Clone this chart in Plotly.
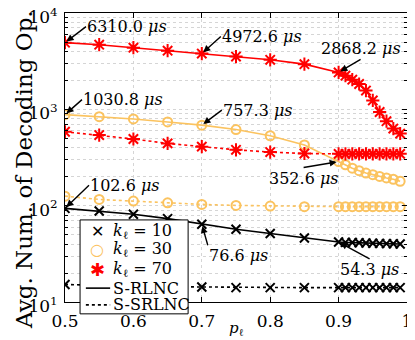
import numpy as np
import plotly.graph_objects as go

p = [0.5, 0.55, 0.6, 0.65, 0.7, 0.75, 0.8, 0.85, 0.9,
     0.91, 0.92, 0.93, 0.94, 0.95, 0.96, 0.97, 0.98, 0.99]

# S-RLNC (solid)
k10_rlnc = [93.8, 88, 81.4, 73.3, 64.2, 57, 51.4, 46.1, 42.0,
            41.6, 41.4, 41.2, 41.0, 40.8, 40.6, 40.4, 40.2, 40.0]
k30_rlnc = [881, 840, 795, 740, 685, 617, 532, 427, 287,
            266, 245, 231, 218, 210, 201, 194, 188, 179]
k70_rlnc = [4920, 4690, 4365, 4064, 3790, 3532, 3266, 2944, 2417,
            2233, 2032, 1832, 1566, 1237, 938, 753, 632, 561]

# S-SRLNC (dotted)
k10_srlnc = [15.2, 14.8, 14.6, 14.4, 14.3, 14.1, 14.1, 14.1, 14.1,
             14.1, 14.1, 14.1, 14.1, 14.1, 14.1, 14.1, 14.1, 14.1]
k30_srlnc = [125.6, 116, 111.5, 107.1, 103.1, 100.6, 99.1, 97.6, 97.5,
             97.5, 97.5, 97.5, 97.5, 97.5, 97.5, 97.5, 97.5, 97.5]
k70_srlnc = [585, 541, 492, 443, 410, 380, 360, 348, 345,
             345, 345, 345, 345, 345, 345, 345, 345, 345]

x_ticks = [0.5, 0.6, 0.7, 0.8, 0.9, 1.0]
x_tick_labels = ["0.5", "0.6", "0.7", "0.8", "0.9", "1"]
y_ticks = [10, 100, 1000, 10000]
y_tick_labels = ["10<sup>1</sup>", "10<sup>2</sup>", "10<sup>3</sup>", "10<sup>4</sup>"]

# decoding time labels: text, arrow head (p, value), tail offset px, text anchor
callouts = [
    ("6310.0", 0.5, 4920, 21, -16, "left", "middle"),
    ("4972.6", 0.7, 3790, 19, -17, "left", "middle"),
    ("2868.2", 0.9, 2417, 22, -13, "center", "bottom"),
    ("1030.8", 0.5, 881, 17, -15, "left", "middle"),
    ("757.3", 0.7, 685, 20, -15, "left", "middle"),
    ("352.6", 0.9, 287, -35, 6, "center", "top"),
    ("102.6", 0.5, 93.8, 24, -23, "left", "middle"),
    ("76.6", 0.7, 64.2, 6, 21, "left", "top"),
    ("54.3", 0.9, 42.0, 31, 17, "center", "top"),
]

RED = "#FF0000"
YEL = "#FBC35F"
FONT = "DejaVu Serif"

series = [
    (k10_rlnc, "black", "x-thin", 9, "solid"),
    (k30_rlnc, YEL, "circle-open", 9, "solid"),
    (k70_rlnc, RED, "asterisk-open", 11, "solid"),
    (k10_srlnc, "black", "x-thin", 9, "dot"),
    (k30_srlnc, YEL, "circle-open", 9, "dot"),
    (k70_srlnc, RED, "asterisk-open", 11, "dot"),
]

fig = go.Figure()
for vals, col, sym, size, dash in series:
    fig.add_trace(go.Scatter(
        x=p, y=vals, mode="lines+markers", showlegend=False,
        line=dict(color=col, width=1.6, dash=dash),
        marker=dict(symbol=sym, size=size, color=col, line=dict(color=col, width=2)),
    ))

for txt, hx, hy, dx, dy, xa, ya in callouts:
    fig.add_annotation(x=hx, y=np.log10(hy), ax=dx, ay=dy, text=txt + " <i>μs</i>",
                       xanchor=xa, yanchor=ya, showarrow=True,
                       arrowhead=2, arrowsize=1, arrowwidth=1.4, arrowcolor="black",
                       standoff=2, borderpad=0,
                       font=dict(family=FONT, size=16, color="black"))

# hand-made legend (box drawn over the curves, like the original)
fig.add_shape(type="rect", xref="paper", yref="paper", x0=0.044, x1=0.36, y0=-0.041, y1=0.284,
              fillcolor="white", line=dict(color="black", width=1), layer="above")
leg_rows = [0.243, 0.180, 0.114, 0.048, -0.010]
leg_marks = [("✕", "black", 16), ("○", YEL, 16), ("✱", RED, 18)]
leg_text = ["<i>k</i><sub>ℓ</sub> = 10", "<i>k</i><sub>ℓ</sub> = 30", "<i>k</i><sub>ℓ</sub> = 70",
            "S-RLNC", "S-SRLNC"]
for (g, col, sz), yy in zip(leg_marks, leg_rows):
    fig.add_annotation(x=0.094, y=yy, xref="paper", yref="paper", text=g, showarrow=False,
                       xanchor="center", yanchor="middle",
                       font=dict(family="DejaVu Sans", size=sz, color=col))
for dash, yy in zip(["solid", "dot"], leg_rows[3:]):
    fig.add_shape(type="line", xref="paper", yref="paper", x0=0.061, x1=0.132, y0=yy, y1=yy,
                  line=dict(color="black", width=1.6, dash=dash), layer="above")
for t, yy in zip(leg_text, leg_rows):
    fig.add_annotation(x=0.134, y=yy, xref="paper", yref="paper", text=t, showarrow=False,
                       xanchor="left", yanchor="middle",
                       font=dict(family=FONT, size=16, color="black"))

# axis titles
fig.add_annotation(x=0.5, y=-0.093, xref="paper", yref="paper", yanchor="middle",
                   text="<i>p</i><sub>ℓ</sub>", showarrow=False,
                   font=dict(family=FONT, size=15, color="black"))
fig.add_annotation(x=-0.164, y=0.46, xref="paper", yref="paper", textangle=-90,
                   xanchor="left", yanchor="middle",
                   text="Avg. Num. of Decoding Op.", showarrow=False,
                   font=dict(family=FONT, size=23, color="black"))

grid = "#D5D5D5"
fig.update_xaxes(range=[0.5, 1.0], tickvals=x_ticks, ticktext=x_tick_labels,
                 showline=True, linecolor="black", linewidth=1, mirror="ticks",
                 ticks="inside", ticklen=5, tickcolor="black", automargin=False,
                 showgrid=True, gridcolor=grid, griddash="dot", gridwidth=1,
                 zeroline=False, ticklabelstandoff=4, ticklabeloverflow="allow",
                 tickfont=dict(family=FONT, size=17, color="black"))
fig.update_yaxes(type="log", range=[1, 4], tickvals=y_ticks, ticktext=y_tick_labels,
                 showline=True, linecolor="black", linewidth=1, mirror="ticks",
                 ticks="inside", ticklen=5, tickcolor="black", automargin=False,
                 showgrid=True, gridcolor=grid, griddash="dot", gridwidth=1,
                 minor=dict(dtick="D1", ticks="inside", ticklen=3, tickcolor="black",
                            showgrid=True, gridcolor=grid, griddash="dot"),
                 zeroline=False, ticklabelstandoff=3, ticklabelshift=4,
                 ticklabeloverflow="allow",
                 tickfont=dict(family=FONT, size=17, color="black"))

# the page adds an 8 px body margin, so the figure is 8 px smaller than the window
fig.update_layout(
    width=407, height=332,
    margin=dict(l=57, r=8, t=5, b=38),
    paper_bgcolor="white", plot_bgcolor="white",
    showlegend=False,
)

fig.write_html("out.html")
